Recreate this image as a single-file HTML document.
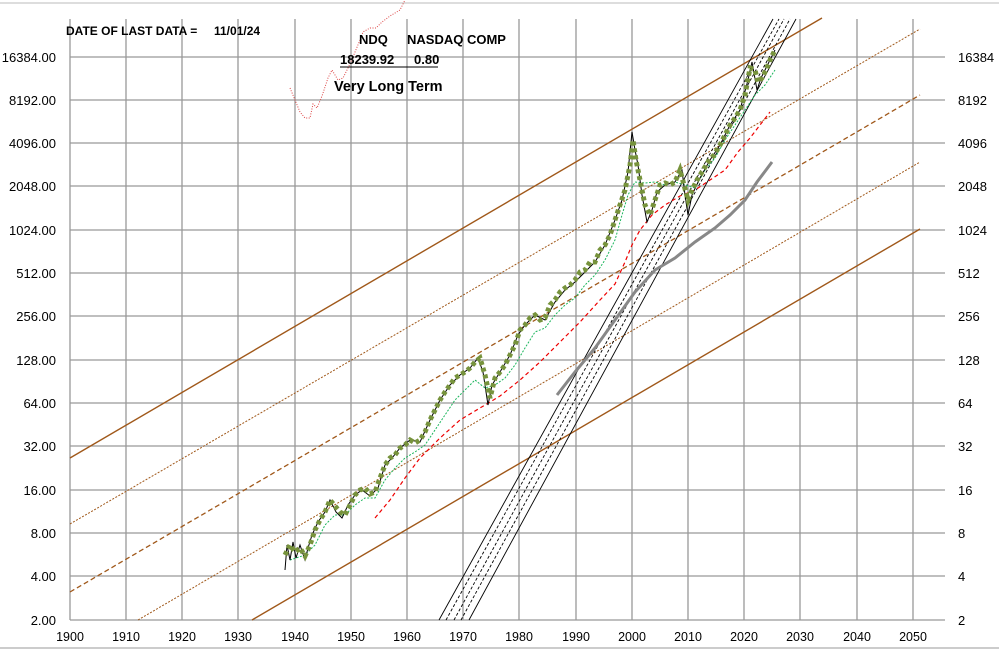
<!DOCTYPE html>
<html><head><meta charset="utf-8"><style>
body{margin:0;background:#fff;}
svg{display:block;font-family:"Liberation Sans",Arial,sans-serif;}
</style></head><body>
<svg width="999" height="653" viewBox="0 0 999 653" xmlns="http://www.w3.org/2000/svg">
<rect width="999" height="653" fill="#fff"/>
<line x1="0" y1="3" x2="999" y2="3" stroke="#bbb"/>
<line x1="0" y1="648" x2="999" y2="648" stroke="#999"/>
<g stroke="#999" stroke-width="1.3">
<line x1="70" y1="19" x2="70" y2="620"/><line x1="126" y1="19" x2="126" y2="620"/><line x1="182" y1="19" x2="182" y2="620"/><line x1="238" y1="19" x2="238" y2="620"/><line x1="295" y1="19" x2="295" y2="620"/><line x1="351" y1="19" x2="351" y2="620"/><line x1="407" y1="19" x2="407" y2="620"/><line x1="463" y1="19" x2="463" y2="620"/><line x1="519" y1="19" x2="519" y2="620"/><line x1="576" y1="19" x2="576" y2="620"/><line x1="632" y1="19" x2="632" y2="620"/><line x1="688" y1="19" x2="688" y2="620"/><line x1="744" y1="19" x2="744" y2="620"/><line x1="800" y1="19" x2="800" y2="620"/><line x1="857" y1="19" x2="857" y2="620"/><line x1="913" y1="19" x2="913" y2="620"/>
<line x1="70" y1="57" x2="945" y2="57"/><line x1="70" y1="100" x2="945" y2="100"/><line x1="70" y1="143" x2="945" y2="143"/><line x1="70" y1="186" x2="945" y2="186"/><line x1="70" y1="230" x2="945" y2="230"/><line x1="70" y1="273" x2="945" y2="273"/><line x1="70" y1="316" x2="945" y2="316"/><line x1="70" y1="360" x2="945" y2="360"/><line x1="70" y1="403" x2="945" y2="403"/><line x1="70" y1="446" x2="945" y2="446"/><line x1="70" y1="490" x2="945" y2="490"/><line x1="70" y1="533" x2="945" y2="533"/><line x1="70" y1="576" x2="945" y2="576"/><line x1="70" y1="620" x2="945" y2="620"/>
</g>
<g font-size="13" fill="#000" text-anchor="end">
<text x="56" y="62">16384.00</text><text x="56" y="105">8192.00</text><text x="56" y="148">4096.00</text><text x="56" y="191">2048.00</text><text x="56" y="235">1024.00</text><text x="56" y="278">512.00</text><text x="56" y="321">256.00</text><text x="56" y="365">128.00</text><text x="56" y="408">64.00</text><text x="56" y="451">32.00</text><text x="56" y="495">16.00</text><text x="56" y="538">8.00</text><text x="56" y="581">4.00</text><text x="56" y="625">2.00</text>
</g>
<g font-size="13" fill="#000">
<text x="958" y="62">16384</text><text x="958" y="105">8192</text><text x="958" y="148">4096</text><text x="958" y="191">2048</text><text x="958" y="235">1024</text><text x="958" y="278">512</text><text x="958" y="321">256</text><text x="958" y="365">128</text><text x="958" y="408">64</text><text x="958" y="451">32</text><text x="958" y="495">16</text><text x="958" y="538">8</text><text x="958" y="581">4</text><text x="958" y="625">2</text>
</g>
<g font-size="12.5" fill="#000" text-anchor="middle">
<text x="70" y="641">1900</text><text x="126" y="641">1910</text><text x="182" y="641">1920</text><text x="238" y="641">1930</text><text x="295" y="641">1940</text><text x="351" y="641">1950</text><text x="407" y="641">1960</text><text x="463" y="641">1970</text><text x="519" y="641">1980</text><text x="576" y="641">1990</text><text x="632" y="641">2000</text><text x="688" y="641">2010</text><text x="744" y="641">2020</text><text x="800" y="641">2030</text><text x="857" y="641">2040</text><text x="913" y="641">2050</text>
</g>
<g stroke="#a0581a" fill="none">
<line x1="70" y1="458" x2="822" y2="18" stroke-width="1.4"/>
<line x1="70" y1="524" x2="920" y2="29" stroke-width="1" stroke-dasharray="2,1.5"/>
<line x1="70" y1="592" x2="920" y2="95" stroke-width="1.3" stroke-dasharray="5,3"/>
<line x1="138" y1="620" x2="920" y2="162" stroke-width="1" stroke-dasharray="2,1.5"/>
<line x1="252" y1="620" x2="920" y2="229" stroke-width="1.4"/>
</g>
<g stroke="#000" fill="none" stroke-width="0.9">
<line x1="439" y1="620" x2="773" y2="19"/>
<line x1="469" y1="620" x2="796" y2="19"/>
<line x1="446" y1="620" x2="779" y2="19" stroke-dasharray="3,2"/>
<line x1="454" y1="620" x2="784" y2="19" stroke-dasharray="3,2"/>
<line x1="461" y1="620" x2="790" y2="19" stroke-dasharray="3,2"/>
</g>
<polyline fill="none" stroke="#888" stroke-width="3" points="557,395 575,372 595,348 615,320 635,292 655,270 675,258 695,242 715,228 730,215 745,200 757,182 772,162"/>
<polyline fill="none" stroke="#e00" stroke-width="1.2" stroke-dasharray="4,3" points="375,518 390,500 405,478 420,458 440,438 460,420 480,408 500,396 520,380 540,362 560,342 580,322 600,300 615,284 625,262 632,245 640,230 652,215 665,205 680,196 695,190 710,180 725,170 738,152 750,138 760,125 770,112"/>
<polyline fill="none" stroke="#d44" stroke-width="1" stroke-dasharray="1,1.5" points="290,88 295,100 300,112 305,118 310,118 313,104 317,108 322,96 328,78 332,70 338,80 343,78 350,64 355,52 360,40 363,32 370,28 376,28 382,22 390,16 400,10 405,0"/>
<polyline fill="none" stroke="#1bb55c" stroke-width="1" stroke-dasharray="2,1.5" points="290,560 305,555 315,545 325,525 335,515 345,515 355,505 365,498 375,498 385,480 395,468 405,458 415,452 425,445 435,430 445,415 455,400 465,390 475,380 485,388 495,385 505,378 515,365 525,348 535,332 545,328 555,315 565,305 575,298 585,285 595,275 605,260 615,240 622,215 628,195 635,182 645,183 655,182 665,185 675,182 685,185 695,188 705,170 715,158 725,140 735,125 745,110 755,95 765,85 775,70"/>
<polyline fill="none" stroke="#000" stroke-width="1" points="285,570 287,545 290,560 293,542 296,558 300,545 305,560 308,548 312,535 318,522 325,512 330,500 336,512 342,518 348,505 355,495 362,490 370,496 378,488 385,465 392,458 400,448 410,440 420,442 430,420 440,400 450,385 460,375 470,368 478,358 483,372 488,405 492,385 500,372 510,355 518,335 525,325 535,315 545,320 555,302 565,290 575,282 585,272 595,262 605,245 615,220 622,200 628,172 632,132 635,150 638,165 642,195 647,222 652,210 657,192 665,185 675,182 682,170 685,195 688,215 692,195 700,178 710,160 720,145 730,125 740,110 748,80 752,62 757,90 761,78 766,68 775,50"/>
<polyline fill="none" stroke="#77933c" stroke-width="5" stroke-dasharray="4,3" points="285,555 290,545 295,552 300,548 305,556 310,545 315,530 320,520 325,512 330,500 335,506 340,512 345,515 350,505 355,495 360,490 365,488 370,494 375,492 380,478 385,465 390,458 395,455 400,448 405,445 410,440 415,443 420,440 425,432 430,420 435,410 440,400 445,392 450,385 455,378 460,375 465,372 470,368 475,362 480,358 485,375 490,398 495,378 500,372 505,365 510,355 515,345 520,330 525,325 530,318 535,315 540,320 545,318 550,305 555,300 560,292 565,288 570,285 575,280 580,272 585,270 590,262 595,262 600,250 605,245 610,235 615,220 620,205 625,190 630,165 633,140 636,160 640,180 645,205 650,215 655,200 660,185 665,183 670,185 675,182 680,170 684,185 688,200 692,190 697,180 702,172 708,162 714,155 720,145 725,135 730,125 735,118 740,110 745,95 750,68 755,70 758,82 762,78 766,70 770,60 775,50"/>
<g font-weight="bold" fill="#000">
<text x="66" y="35" font-size="12">DATE OF LAST DATA =</text>
<text x="214" y="35" font-size="12">11/01/24</text>
<text x="359" y="44" font-size="13">NDQ</text>
<text x="407" y="44" font-size="13">NASDAQ COMP</text>
<text x="340" y="64" font-size="13">18239.92</text>
<text x="414" y="64" font-size="13">0.80</text>
<text x="334" y="91" font-size="14.5">Very Long Term</text>
</g>
<line x1="340" y1="67" x2="438" y2="67" stroke="#000" stroke-width="1"/>
</svg>
</body></html>
